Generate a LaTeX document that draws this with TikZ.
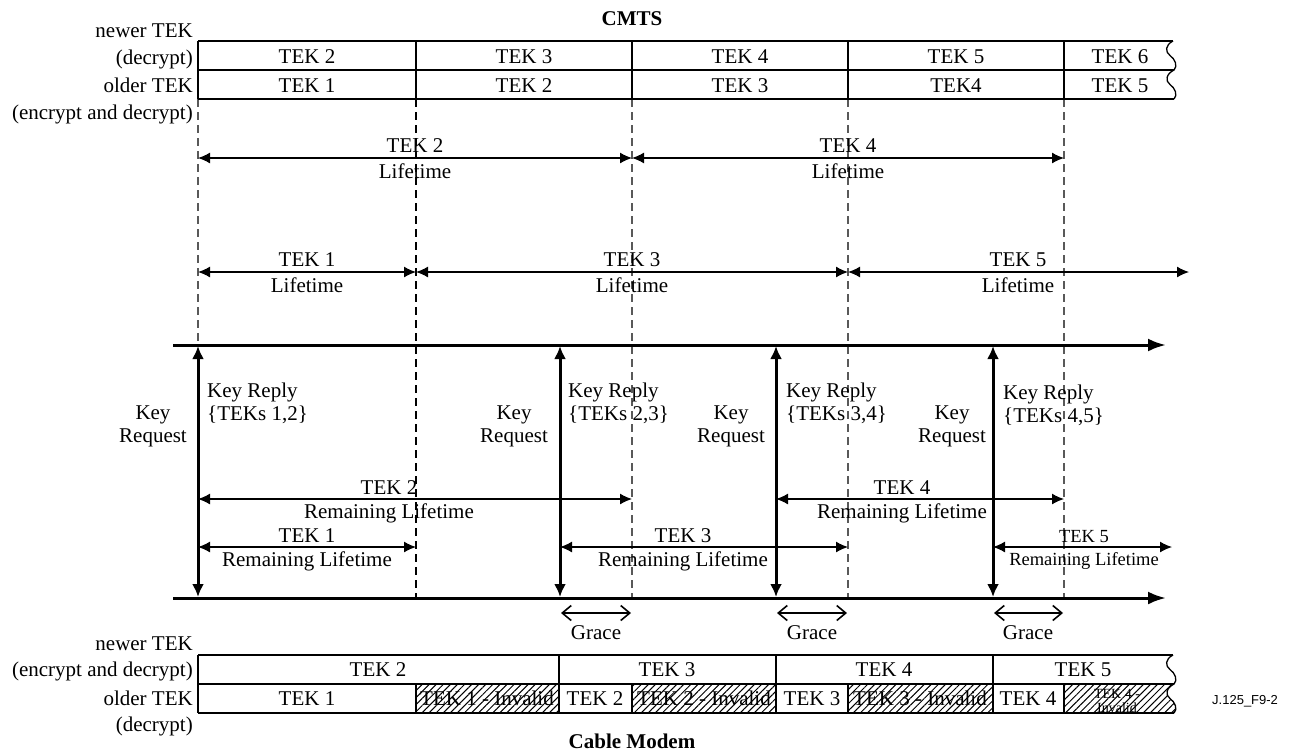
\documentclass[tikz,border=0pt]{standalone}
\usepackage{fontspec}
\setmainfont{Liberation Serif}
\newfontfamily\figsans{Liberation Sans}
\usetikzlibrary{arrows.meta,patterns.meta}
\begin{document}
\begin{tikzpicture}[x=1pt,y=-1pt,
  txt/.style={inner sep=0pt,font=\fontsize{21}{23}\selectfont,anchor=base},
  txtw/.style={txt,anchor=base west},
  txte/.style={txt,anchor=base east},
  small/.style={inner sep=0pt,font=\fontsize{18.5}{20}\selectfont,anchor=base},
  tiny/.style={inner sep=0pt,font=\fontsize{14}{15}\selectfont,anchor=base},
  bold/.style={txt,font=\bfseries\fontsize{21}{23}\selectfont},
  frame/.style={line width=1.3pt},
  vdash/.style={line width=1.2pt,draw=black!65,dash pattern=on 8pt off 5pt},
  vdashdark/.style={line width=1.7pt,draw=black,dash pattern=on 8pt off 5pt},
  span/.style={line width=1.3pt,{Latex[length=12pt,width=11pt]}-{Latex[length=12pt,width=11pt]}},
  axis/.style={line width=3pt,-{Latex[length=18pt,width=13pt]}},
  kreq/.style={line width=3pt,{Latex[length=13pt,width=12pt]}-{Latex[length=13pt,width=12pt]}},
  grace/.style={line width=1.6pt,{Straight Barb[length=9pt,width=15pt]}-{Straight Barb[length=9pt,width=15pt]}},
  hatch/.style={pattern={Lines[angle=45,distance=5pt,line width=1pt]}},
]
\path[use as bounding box] (0,0) rectangle (1289,753);

% ---------- titles ----------
\node[bold] (cmts) at (632,25) {CMTS};
\node[bold] (cm) at (632,748) {Cable Modem};
\node[tiny,anchor=base west,font=\figsans\fontsize{13}{14}\selectfont] (fig) at (1212,704) {J.125\_F9-2};

% ---------- left labels (top) ----------
\node[txte] (tl1) at (193,37) {newer TEK};
\node[txte] (tl2) at (193,64) {(decrypt)};
\node[txte] (tl3) at (193,92) {older TEK};
\node[txte] (tl4) at (193,119) {(encrypt and decrypt)};

% ---------- left labels (bottom) ----------
\node[txte] (bl1) at (193,650) {newer TEK};
\node[txte] (bl2) at (193,676) {(encrypt and decrypt)};
\node[txte] (bl3) at (193,705) {older TEK};
\node[txte] (bl4) at (193,731) {(decrypt)};

% ---------- dashed guides ----------
\draw[vdash] (198,99) -- (198,345);
\draw[vdashdark] (416,99) -- (416,598);
\draw[vdash] (632,99) -- (632,598);
\draw[vdash] (848,99) -- (848,598);
\draw[vdash] (1064,99) -- (1064,598);

% ---------- top table ----------
\draw[frame] (198,41) -- (1173,41);
\draw[frame] (198,70) -- (1174,70);
\draw[frame] (198,99) -- (1174,99);
\foreach \x in {198,416,632,848,1064} \draw[frame] (\x,41) -- (\x,99);
\draw[frame] (1173,41) .. controls (1165,45) and (1165,52) .. (1170,55.5) .. controls (1175,59) and (1178,66) .. (1174,70)
  .. controls (1166,74) and (1165,81) .. (1170,84.5) .. controls (1175,88) and (1178,95) .. (1174,99);
\node[txt] (t11) at (307,63) {TEK 2};
\node[txt] (t12) at (524,63) {TEK 3};
\node[txt] (t13) at (740,63) {TEK 4};
\node[txt] (t14) at (956,63) {TEK 5};
\node[txt] (t15) at (1120,63) {TEK 6};
\node[txt] (t21) at (307,92) {TEK 1};
\node[txt] (t22) at (524,92) {TEK 2};
\node[txt] (t23) at (740,92) {TEK 3};
\node[txt] (t24) at (956,92) {TEK4};
\node[txt] (t25) at (1120,92) {TEK 5};

% ---------- lifetimes ----------
\draw[span] (198,158) -- (632,158);
\draw[span] (632,158) -- (1064,158);
\node[txt] (lt2a) at (415,152) {TEK 2};
\node[txt] (lt2b) at (415,178) {Lifetime};
\node[txt] (lt4a) at (848,152) {TEK 4};
\node[txt] (lt4b) at (848,178) {Lifetime};

\draw[span] (198,272) -- (416,272);
\draw[span] (416,272) -- (848,272);
\draw[span] (848,272) -- (1189,272);
\node[txt] (lt1a) at (307,266) {TEK 1};
\node[txt] (lt1b) at (307,292) {Lifetime};
\node[txt] (lt3a) at (632,266) {TEK 3};
\node[txt] (lt3b) at (632,292) {Lifetime};
\node[txt] (lt5a) at (1018,266) {TEK 5};
\node[txt] (lt5b) at (1018,292) {Lifetime};

% ---------- time axes ----------
\draw[axis] (173,345) -- (1166,345);
\draw[axis] (173,598) -- (1166,598);

% ---------- key request / reply ----------
\foreach \x in {198,560,776,993} \draw[kreq] (\x,346) -- (\x,597);
\node[txt] (kq1a) at (153,419) {Key};  \node[txt] (kq1b) at (153,442) {Request};
\node[txt] (kq2a) at (514,419) {Key};  \node[txt] (kq2b) at (514,442) {Request};
\node[txt] (kq3a) at (731,419) {Key};  \node[txt] (kq3b) at (731,442) {Request};
\node[txt] (kq4a) at (952,419) {Key};  \node[txt] (kq4b) at (952,442) {Request};
\node[txtw] (kr1a) at (207,397) {Key Reply}; \node[txtw] (kr1b) at (207,420) {\{TEKs 1,2\}};
\node[txtw] (kr2a) at (568,397) {Key Reply}; \node[txtw] (kr2b) at (568,420) {\{TEKs 2,3\}};
\node[txtw] (kr3a) at (786,397) {Key Reply}; \node[txtw] (kr3b) at (786,420) {\{TEKs 3,4\}};
\node[txtw] (kr4a) at (1003,399) {Key Reply}; \node[txtw] (kr4b) at (1003,422) {\{TEKs 4,5\}};

% ---------- remaining lifetimes ----------
\draw[span] (198,499) -- (632,499);
\node[txt] (rl2a) at (389,494) {TEK 2};
\node[txt] (rl2b) at (389,518) {Remaining Lifetime};
\draw[span] (776,499) -- (1064,499);
\node[txt] (rl4a) at (902,494) {TEK 4};
\node[txt] (rl4b) at (902,518) {Remaining Lifetime};
\draw[span] (198,547) -- (416,547);
\node[txt] (rl1a) at (307,542) {TEK 1};
\node[txt] (rl1b) at (307,566) {Remaining Lifetime};
\draw[span] (560,547) -- (848,547);
\node[txt] (rl3a) at (683,542) {TEK 3};
\node[txt] (rl3b) at (683,566) {Remaining Lifetime};
\draw[span] (993,547) -- (1172,547);
\node[small] (rl5a) at (1084,542) {TEK 5};
\node[small] (rl5b) at (1084,565) {Remaining Lifetime};

% ---------- grace ----------
\draw[grace] (561,613) -- (631,613);
\draw[grace] (777,613) -- (847,613);
\draw[grace] (994,613) -- (1063,613);
\node[txt] (g1) at (596,639) {Grace};
\node[txt] (g2) at (812,639) {Grace};
\node[txt] (g3) at (1028,639) {Grace};

% ---------- bottom table ----------
\node[txt] (b22) at (487,705) {TEK 1 - Invalid};
\node[txt] (b24) at (704,705) {TEK 2 - Invalid};
\node[txt] (b26) at (920,705) {TEK 3 - Invalid};
\node[tiny] (b28a) at (1117,698) {TEK 4 -};
\node[tiny] (b28b) at (1117,712) {Invalid};
\fill[hatch] (416,684) rectangle (559,713);
\fill[hatch] (632,684) rectangle (776,713);
\fill[hatch] (848,684) rectangle (993,713);
\fill[hatch] (1064,684) -- (1174,684) .. controls (1166,688) and (1165,695) .. (1170,698.5) .. controls (1175,702) and (1178,709) .. (1174,713) -- (1064,713) -- cycle;
\draw[frame] (198,655) -- (1173,655);
\draw[frame] (198,684) -- (1174,684);
\draw[frame] (198,713) -- (1174,713);
\foreach \x in {198,559,776,993} \draw[frame] (\x,655) -- (\x,713);
\foreach \x in {416,632,848,1064} \draw[frame] (\x,684) -- (\x,713);
\draw[frame] (1173,655) .. controls (1165,659) and (1165,666) .. (1170,669.5) .. controls (1175,673) and (1178,680) .. (1174,684)
  .. controls (1166,688) and (1165,695) .. (1170,698.5) .. controls (1175,702) and (1178,709) .. (1174,713);
\node[txt] (b11) at (378,676) {TEK 2};
\node[txt] (b12) at (667,676) {TEK 3};
\node[txt] (b13) at (884,676) {TEK 4};
\node[txt] (b14) at (1083,676) {TEK 5};
\node[txt] (b21) at (307,705) {TEK 1};
\node[txt] (b23) at (595,705) {TEK 2};
\node[txt] (b25) at (812,705) {TEK 3};
\node[txt] (b27) at (1028,705) {TEK 4};
\end{tikzpicture}
\end{document}
